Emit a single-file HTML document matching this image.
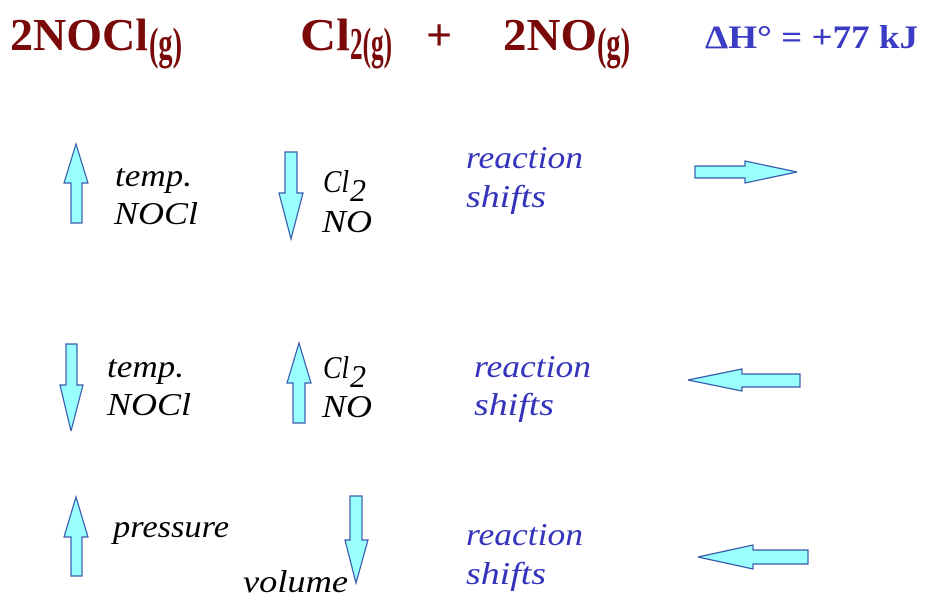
<!DOCTYPE html>
<html><head><meta charset="utf-8"><style>
html,body{margin:0;padding:0;background:#fff;}
svg{display:block;}
.h{font-family:"Liberation Serif",serif;font-weight:bold;fill:#7a0a0a;font-size:46px;}
.dh{font-family:"Liberation Serif",serif;font-weight:bold;fill:#3b3bc4;font-size:33px;}
.t{font-family:"Liberation Serif",serif;font-style:italic;font-size:32px;fill:#000;}
.b{font-family:"Liberation Serif",serif;font-style:italic;font-size:32px;fill:#3333bb;}
.a{fill:#99ffff;stroke:#3355aa;stroke-width:1.2;}
</style></head><body>
<svg width="936" height="608" viewBox="0 0 936 608" xmlns="http://www.w3.org/2000/svg">
<text class="h" x="10" y="50" textLength="138" lengthAdjust="spacingAndGlyphs">2NOCl</text><text class="h" x="149" y="59" font-size="28" textLength="33" lengthAdjust="spacingAndGlyphs">(g)</text>
<text class="h" x="300" y="50" textLength="50" lengthAdjust="spacingAndGlyphs">Cl</text><text class="h" x="350" y="59" font-size="28" textLength="42" lengthAdjust="spacingAndGlyphs">2(g)</text>
<text class="h" x="426" y="50">+</text>
<text class="h" x="503" y="50" textLength="94" lengthAdjust="spacingAndGlyphs">2NO</text><text class="h" x="597" y="59" font-size="28" textLength="33" lengthAdjust="spacingAndGlyphs">(g)</text>
<text class="dh" x="705" y="48" textLength="213" lengthAdjust="spacingAndGlyphs">ΔH° = +77 kJ</text>

<!-- row 1 -->
<polygon class="a" points="76,144 88,183 82,183 82,223 71,223 71,183 64,183"/>
<text class="t" x="115" y="186" textLength="77" lengthAdjust="spacingAndGlyphs">temp.</text>
<text class="t" x="114" y="224" textLength="84" lengthAdjust="spacingAndGlyphs">NOCl</text>
<polygon class="a" points="285,152 297,152 297,193 303,193 291,239 279,193 285,193"/>
<text class="t" x="323" y="192" textLength="26" lengthAdjust="spacingAndGlyphs">Cl</text><text class="t" x="350" y="201" font-size="19">2</text>
<text class="t" x="322" y="232" textLength="50" lengthAdjust="spacingAndGlyphs">NO</text>
<text class="b" x="466" y="168" textLength="117" lengthAdjust="spacingAndGlyphs">reaction</text>
<text class="b" x="466" y="207" textLength="80" lengthAdjust="spacingAndGlyphs">shifts</text>
<polygon class="a" points="695,166 745,166 745,161 797,172 745,183 745,178 695,178"/>

<!-- row 2 -->
<polygon class="a" points="66,344 77,344 77,385 83,385 71,431 60,385 66,385"/>
<text class="t" x="107" y="377" textLength="77" lengthAdjust="spacingAndGlyphs">temp.</text>
<text class="t" x="107" y="415" textLength="84" lengthAdjust="spacingAndGlyphs">NOCl</text>
<polygon class="a" points="299,343 311,383 305,383 305,423 293,423 293,383 287,383"/>
<text class="t" x="323" y="378" textLength="26" lengthAdjust="spacingAndGlyphs">Cl</text><text class="t" x="350" y="387" font-size="19">2</text>
<text class="t" x="322" y="417" textLength="50" lengthAdjust="spacingAndGlyphs">NO</text>
<text class="b" x="474" y="377" textLength="117" lengthAdjust="spacingAndGlyphs">reaction</text>
<text class="b" x="474" y="415" textLength="80" lengthAdjust="spacingAndGlyphs">shifts</text>
<polygon class="a" points="688,380 742,369 742,374 800,374 800,387 742,387 742,391"/>

<!-- row 3 -->
<polygon class="a" points="76,497 88,537 82,537 82,576 71,576 71,537 64,537"/>
<text class="t" x="113" y="537" textLength="116" lengthAdjust="spacingAndGlyphs">pressure</text>
<polygon class="a" points="350,496 362,496 362,540 368,540 356,583 345,540 350,540"/>
<text class="t" x="243" y="592" textLength="105" lengthAdjust="spacingAndGlyphs">volume</text>
<text class="b" x="466" y="545" textLength="117" lengthAdjust="spacingAndGlyphs">reaction</text>
<text class="b" x="466" y="584" textLength="80" lengthAdjust="spacingAndGlyphs">shifts</text>
<polygon class="a" points="698,557 753,545 753,550 808,550 808,564 753,564 753,569"/>
</svg>
</body></html>
